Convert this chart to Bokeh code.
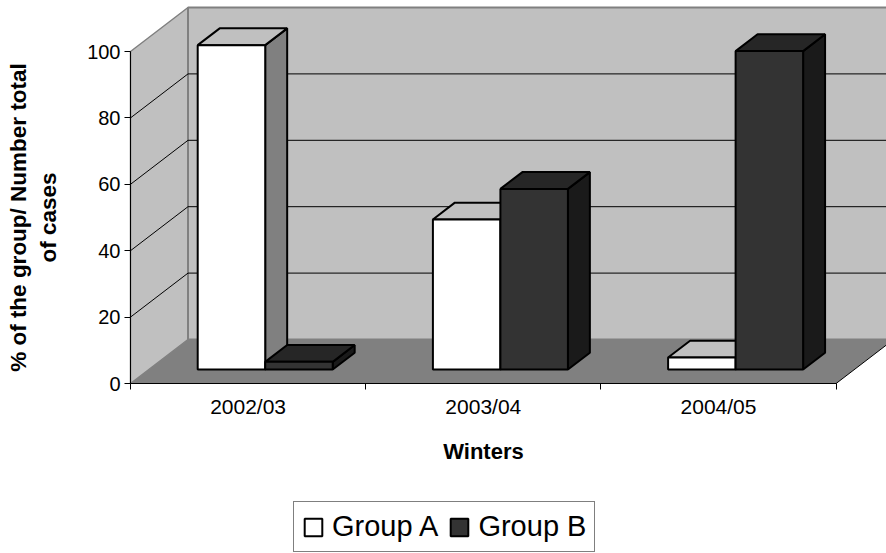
from bokeh.plotting import figure
from bokeh.models import FixedTicker, Legend, LegendItem
from bokeh.embed import file_html
from bokeh.resources import INLINE

categories = ["2002/03", "2003/04", "2004/05"]
group_a = [97.7, 45.2, 3.6]
group_b = [2.3, 54.4, 95.9]
y_ticks = [0, 20, 40, 60, 80, 100]
grid_values = [20, 40, 60, 80]
series_names = ["Group A", "Group B"]

W, H = 886, 553
X0, Y0 = 130.0, 383.0      # pixel position of the axes' origin
SX, SY = 235.2, 3.32       # pixels per category / per value unit
DX, DY = 57.5 / SX, 44.0 / SY   # oblique depth of the box, in data units
F1, F2 = 0.318, 0.70       # front and back of the bars, as fraction of depth
GAP, BAR = 0.208, 0.287    # category offset and bar width

GREY, MID = "#C0C0C0", "#808080"

p = figure(width=W, height=H, output_backend="svg", toolbar_location=None,
           x_range=(-X0 / SX, (W - X0) / SX), y_range=(-(H - Y0) / SY, Y0 / SY),
           min_border=0, outline_line_color=None,
           background_fill_color="white", border_fill_color="white")
p.grid.visible = False

# Box: left wall, back wall, floor
top = 100 + DY
p.patch([0, DX, DX, 0], [0, DY, top, 100], fill_color=GREY, line_color=MID, line_width=1.5)
p.patch([DX, 3 + DX, 3 + DX, DX], [DY, DY, top, top], fill_color=GREY, line_color=MID, line_width=2)
p.patch([0, 3, 3 + DX, DX], [0, 0, DY, DY], fill_color=MID, line_color=None)
p.line([3, 3 + DX], [0, DY], line_color="black", line_width=1)

# Gridlines across walls
p.multi_line([[0, DX, 3 + DX] for _ in grid_values],
             [[v, v + DY, v + DY] for v in grid_values], line_color="black", line_width=1)


def draw_series(values, offset, front, top_col, side_col):
    xl = [i + GAP + offset * BAR + F1 * DX for i in range(len(values))]
    xr = [x + BAR for x in xl]
    base = F1 * DY
    d = (F2 - F1)
    sx, sy, tx, ty = [], [], [], []
    for l, r, v in zip(xl, xr, values):
        sx.append([r, r + d * DX, r + d * DX, r])
        sy.append([base, base + d * DY, base + v + d * DY, base + v])
        tx.append([l, r, r + d * DX, l + d * DX])
        ty.append([base + v, base + v, base + v + d * DY, base + v + d * DY])
    p.patches(sx, sy, fill_color=side_col, line_color="black", line_width=2)
    p.patches(tx, ty, fill_color=top_col, line_color="black", line_width=2)
    return p.quad(left=xl, right=xr, bottom=[base] * len(values), top=[base + v for v in values],
                  fill_color=front, line_color="black", line_width=2)


r_a = draw_series(group_a, 0, "white", GREY, MID)
r_b = draw_series(group_b, 1, "#333333", "#262626", "#1A1A1A")

# Axes
p.yaxis.fixed_location = 0
p.yaxis.bounds = (0, 100)
p.yaxis.ticker = FixedTicker(ticks=y_ticks)
p.yaxis.major_tick_out = 6
p.yaxis.major_tick_in = 0
p.yaxis.minor_tick_line_color = None
p.yaxis.major_label_text_font = "Liberation Sans"
p.yaxis.major_label_text_font_size = "20px"
p.yaxis.major_label_text_color = "black"
p.yaxis.major_label_standoff = 4
p.yaxis.axis_line_color = "black"
p.yaxis.axis_label = "% of the group/ Number total\nof cases"
p.yaxis.axis_label_text_font = "Liberation Sans"
p.yaxis.axis_label_text_font_style = "bold"
p.yaxis.axis_label_text_font_size = "22.5px"
p.yaxis.axis_label_text_color = "black"
p.yaxis.axis_label_standoff = 23

mid_ticks = [i + 0.5 for i in range(len(categories))]
p.xaxis.fixed_location = 0
p.xaxis.bounds = (0, 3)
p.xaxis.ticker = FixedTicker(ticks=mid_ticks, minor_ticks=list(range(len(categories) + 1)))
p.xaxis.major_label_overrides = dict(zip(mid_ticks, categories))
p.xaxis.major_tick_line_color = None
p.xaxis.major_tick_out = 0
p.xaxis.major_tick_in = 0
p.xaxis.minor_tick_out = 6
p.xaxis.minor_tick_in = 0
p.xaxis.major_label_text_font = "Liberation Sans"
p.xaxis.major_label_text_font_size = "21px"
p.xaxis.major_label_text_color = "black"
p.xaxis.major_label_standoff = 5
p.xaxis.axis_line_color = "black"
p.xaxis.axis_label = "Winters"
p.xaxis.axis_label_text_font = "Liberation Sans"
p.xaxis.axis_label_text_font_style = "bold"
p.xaxis.axis_label_text_font_size = "22px"
p.xaxis.axis_label_text_color = "black"
p.xaxis.axis_label_standoff = 18

legend = Legend(items=[LegendItem(label=series_names[0], renderers=[r_a]),
                       LegendItem(label=series_names[1], renderers=[r_b])],
                orientation="horizontal", location=(293, 1), margin=0, padding=8, spacing=10,
                glyph_width=22, glyph_height=22, label_standoff=8,
                label_text_font="Liberation Sans", label_text_font_size="29px",
                label_text_color="black", border_line_color="black", border_line_width=1,
                background_fill_color="white", background_fill_alpha=1)
p.add_layout(legend, "center")

open("out.html", "w").write(file_html(p, INLINE))
